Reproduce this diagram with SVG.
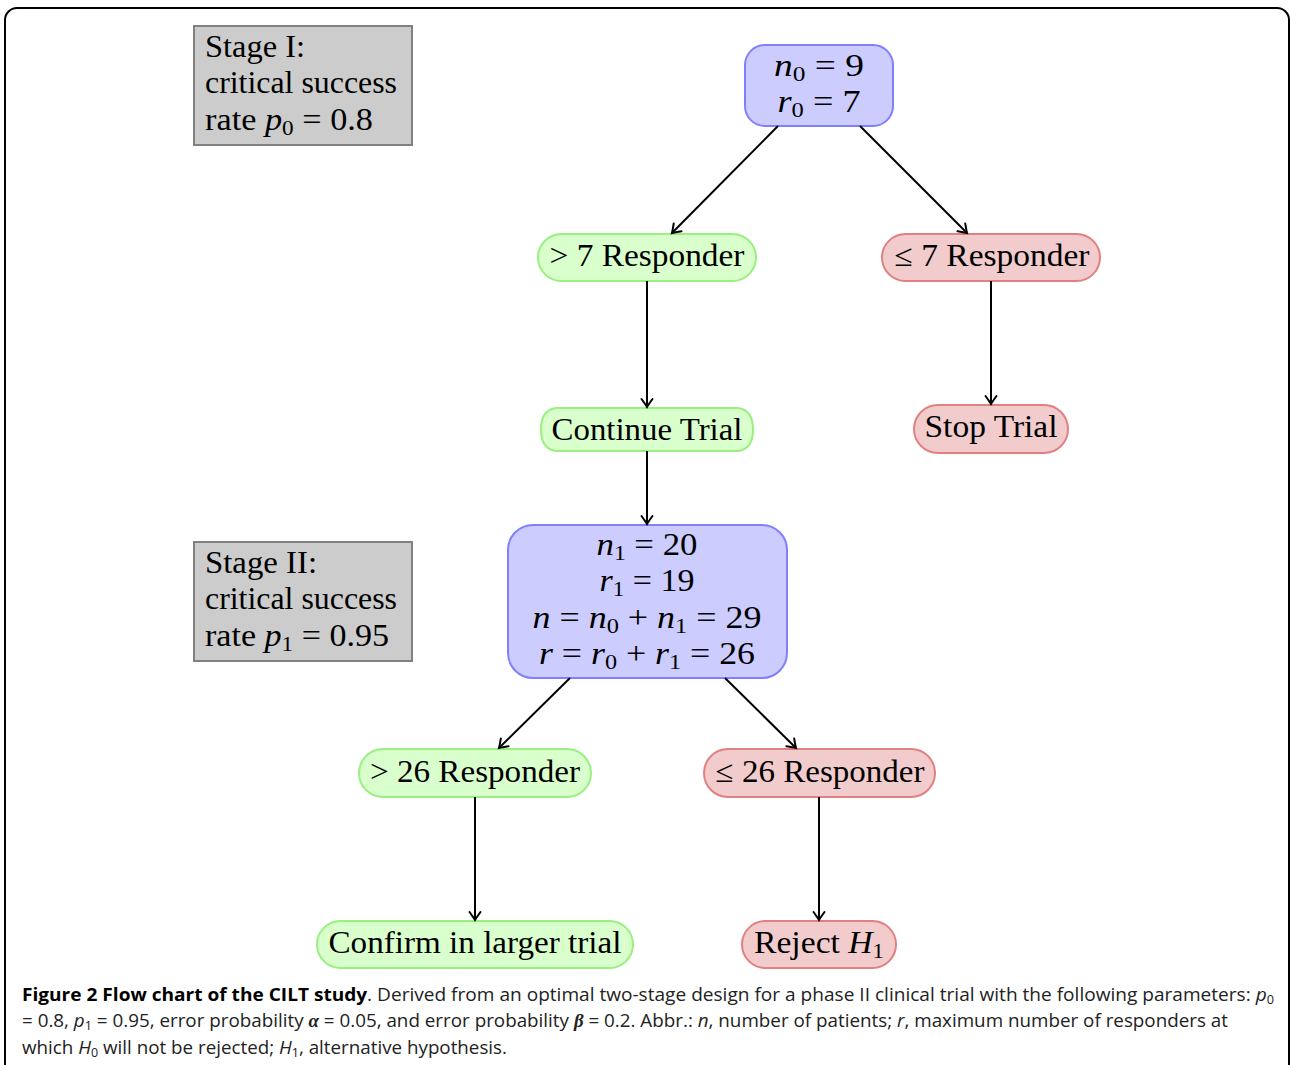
<svg xmlns="http://www.w3.org/2000/svg" width="1290" height="1065" viewBox="0 0 1290 1065">
<style>
.t{font-family:"Liberation Serif","Times New Roman",serif;font-size:31px;fill:#000}
.m{font-style:italic}
.c{text-anchor:middle}
.grey{fill:#cccccc;stroke:#808080;stroke-width:2}
.blue{fill:#ccccff;stroke:#8080ff;stroke-width:2}
.green{fill:#d9ffcc;stroke:#99f080;stroke-width:2}
.red{fill:#f2cccc;stroke:#e08080;stroke-width:2}
.cap{font-family:"Open Sans","Liberation Sans",sans-serif;font-size:18px;fill:#222}
.b{font-weight:bold;fill:#000}
.gk{font-family:"Liberation Serif",serif;font-weight:bold;font-style:italic}
#connectors line{stroke:#000;stroke-width:2;marker-end:url(#arr)}
</style>
<defs>
<marker id="arr" markerUnits="userSpaceOnUse" markerWidth="16" markerHeight="16" viewBox="-9 -8 10 16" refX="0" refY="0" orient="auto">
<path d="M-8,-5.5 Q-2.5,-1.5 0,0 Q-2.5,1.5 -8,5.5" fill="none" stroke="#000" stroke-width="2" stroke-linecap="round"/>
</marker>
</defs>
<rect x="5" y="8" width="1284" height="1080" rx="12" fill="#fff" stroke="#000" stroke-width="2"/>

<g id="stage1">
<rect class="grey" x="194" y="26" width="218" height="119"/>
<text class="t" x="205" y="57" textLength="100" lengthAdjust="spacingAndGlyphs">Stage I:</text>
<text class="t" x="205" y="93" textLength="192" lengthAdjust="spacingAndGlyphs">critical success</text>
<text class="t" x="205" y="130" textLength="168" lengthAdjust="spacingAndGlyphs">rate <tspan class="m">p</tspan><tspan font-size="21" dy="5">0</tspan><tspan dy="-5"> = 0.8</tspan></text>
</g>

<g id="stage2">
<rect class="grey" x="194" y="542" width="218" height="119"/>
<text class="t" x="205" y="573" textLength="112" lengthAdjust="spacingAndGlyphs">Stage II:</text>
<text class="t" x="205" y="609" textLength="192" lengthAdjust="spacingAndGlyphs">critical success</text>
<text class="t" x="205" y="646" textLength="184" lengthAdjust="spacingAndGlyphs">rate <tspan class="m">p</tspan><tspan font-size="21" dy="5">1</tspan><tspan dy="-5"> = 0.95</tspan></text>
</g>

<g id="n0">
<rect class="blue" x="745" y="45" width="148" height="81" rx="20"/>
<text class="t c" x="819" y="76" textLength="90" lengthAdjust="spacingAndGlyphs"><tspan class="m">n</tspan><tspan font-size="21" dy="5">0</tspan><tspan dy="-5">  =  9</tspan></text>
<text class="t c" x="819" y="112" textLength="83" lengthAdjust="spacingAndGlyphs"><tspan class="m">r</tspan><tspan font-size="21" dy="5">0</tspan><tspan dy="-5">  =  7</tspan></text>
</g>

<g id="gt7">
<rect class="green" x="538" y="234" width="218" height="47" rx="23.5"/>
<text class="t c" x="647" y="266" textLength="195" lengthAdjust="spacingAndGlyphs">&gt; 7 Responder</text>
</g>

<g id="le7">
<rect class="red" x="882" y="234" width="218" height="47" rx="23.5"/>
<text class="t c" x="992" y="266" textLength="195" lengthAdjust="spacingAndGlyphs">≤ 7 Responder</text>
</g>

<g id="continue">
<path class="green" d="M556,408 H738 Q753,410 753,429.5 Q753,449 738,451 H556 Q541,449 541,429.5 Q541,410 556,408 Z"/>
<text class="t c" x="647" y="440" textLength="191" lengthAdjust="spacingAndGlyphs">Continue Trial</text>
</g>

<g id="stop">
<rect class="red" x="914" y="405" width="154" height="48" rx="24"/>
<text class="t c" x="991" y="437" textLength="133" lengthAdjust="spacingAndGlyphs">Stop Trial</text>
</g>

<g id="n1">
<rect class="blue" x="508" y="525" width="279" height="153" rx="25"/>
<text class="t c" x="647" y="555" textLength="101" lengthAdjust="spacingAndGlyphs"><tspan class="m">n</tspan><tspan font-size="21" dy="5">1</tspan><tspan dy="-5">  =  20</tspan></text>
<text class="t c" x="647" y="591" textLength="95" lengthAdjust="spacingAndGlyphs"><tspan class="m">r</tspan><tspan font-size="21" dy="5">1</tspan><tspan dy="-5">  =  19</tspan></text>
<text class="t c" x="647" y="628" textLength="229" lengthAdjust="spacingAndGlyphs"><tspan class="m">n</tspan>  =  <tspan class="m">n</tspan><tspan font-size="21" dy="5">0</tspan><tspan dy="-5">  +  </tspan><tspan class="m">n</tspan><tspan font-size="21" dy="5">1</tspan><tspan dy="-5">  =  29</tspan></text>
<text class="t c" x="647" y="664" textLength="216" lengthAdjust="spacingAndGlyphs"><tspan class="m">r</tspan>  =  <tspan class="m">r</tspan><tspan font-size="21" dy="5">0</tspan><tspan dy="-5">  +  </tspan><tspan class="m">r</tspan><tspan font-size="21" dy="5">1</tspan><tspan dy="-5">  =  26</tspan></text>
</g>

<g id="gt26">
<rect class="green" x="359" y="749" width="232" height="48" rx="24"/>
<text class="t c" x="475" y="782" textLength="210" lengthAdjust="spacingAndGlyphs">&gt; 26 Responder</text>
</g>

<g id="le26">
<rect class="red" x="704" y="749" width="231" height="48" rx="24"/>
<text class="t c" x="820" y="782" textLength="209" lengthAdjust="spacingAndGlyphs">≤ 26 Responder</text>
</g>

<g id="confirm">
<rect class="green" x="317" y="921" width="316" height="47" rx="23.5"/>
<text class="t c" x="475" y="953" textLength="293" lengthAdjust="spacingAndGlyphs">Confirm in larger trial</text>
</g>

<g id="reject">
<rect class="red" x="742" y="921" width="154" height="47" rx="23.5"/>
<text class="t c" x="819" y="953" textLength="130" lengthAdjust="spacingAndGlyphs">Reject <tspan class="m">H</tspan><tspan font-size="21" dy="5">1</tspan></text>
</g>

<g id="connectors">
<line x1="778" y1="126" x2="672" y2="233"/>
<line x1="860" y1="126" x2="967" y2="233"/>
<line x1="647" y1="281" x2="647" y2="407"/>
<line x1="991" y1="281" x2="991" y2="404"/>
<line x1="647" y1="451" x2="647" y2="524"/>
<line x1="570" y1="678" x2="499" y2="748"/>
<line x1="725" y1="678" x2="796" y2="748"/>
<line x1="475" y1="797" x2="475" y2="920"/>
<line x1="819" y1="797" x2="819" y2="920"/>
</g>

<g id="caption">
<text class="cap" x="22" y="1001" textLength="1252" lengthAdjust="spacingAndGlyphs"><tspan class="b">Figure 2 Flow chart of the CILT study</tspan>. Derived from an optimal two-stage design for a phase II clinical trial with the following parameters: <tspan font-style="italic">p</tspan><tspan font-size="12" dy="3">0</tspan></text>
<text class="cap" x="22" y="1027" textLength="1206" lengthAdjust="spacingAndGlyphs">= 0.8, <tspan font-style="italic">p</tspan><tspan font-size="12" dy="3">1</tspan><tspan dy="-3"> = 0.95, error probability </tspan><tspan class="gk">α</tspan> = 0.05, and error probability <tspan class="gk">β</tspan> = 0.2. Abbr.: <tspan font-style="italic">n</tspan>, number of patients; <tspan font-style="italic">r</tspan>, maximum number of responders at</text>
<text class="cap" x="22" y="1054" textLength="485" lengthAdjust="spacingAndGlyphs">which <tspan font-style="italic">H</tspan><tspan font-size="12" dy="3">0</tspan><tspan dy="-3"> will not be rejected; </tspan><tspan font-style="italic">H</tspan><tspan font-size="12" dy="3">1</tspan><tspan dy="-3">, alternative hypothesis.</tspan></text>
</g>
</svg>
